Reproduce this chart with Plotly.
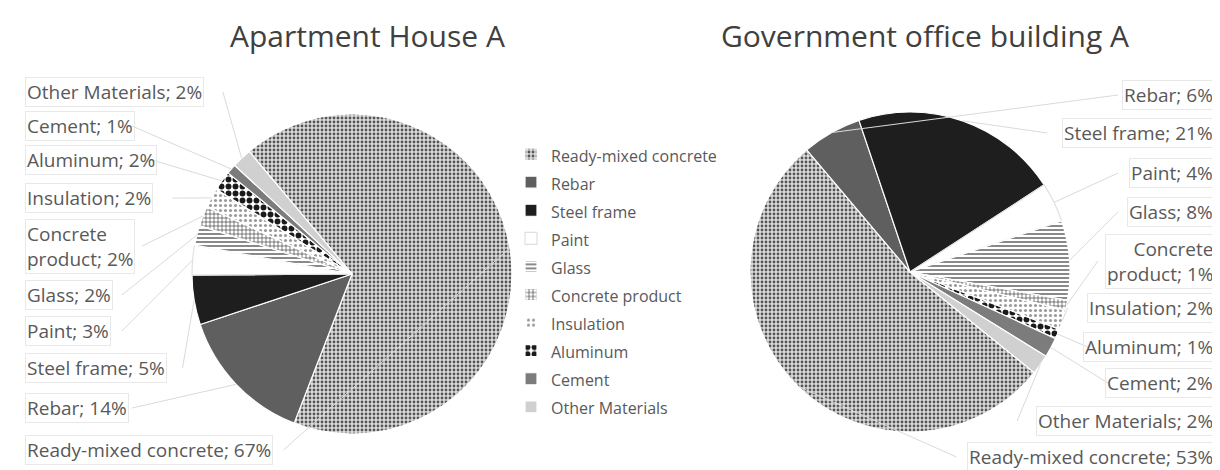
import math
import plotly.graph_objects as go

# page offset (body margin) and figure size
OX, OY = 8, 8
W, H = 1212, 462

materials = ["Ready-mixed concrete", "Rebar", "Steel frame", "Paint", "Glass",
             "Concrete product", "Insulation", "Aluminum", "Cement", "Other Materials"]
apartment_pct = [67, 14, 5, 3, 2, 2, 2, 2, 1, 2]
office_pct = [53, 6, 21, 4, 8, 1, 2, 1, 2, 2]

label_text = ["Ready-mixed concrete", "Rebar", "Steel frame", "Paint", "Glass",
              "Concrete<br>product", "Insulation", "Aluminum", "Cement", "Other Materials"]

titles = ["Apartment House A", "Government office building A"]


def fx(sx):
    return (sx - OX) / W


def fy(sy):
    return 1 - (sy - OY) / H


# styling
fill_colors = ["#dcdcdc", "#5f5f5f", "#1e1e1e", "#ffffff", "#ffffff",
               "#ffffff", "#ffffff", "#ffffff", "#7c7c7c", "#d0d0d0"]
pat_shapes = [".", "", "", "", "-", "+", ".", ".", "", ""]
pat_fg = ["#555555", "#5f5f5f", "#1e1e1e", "#ffffff", "#3a3a3a",
          "#3a3a3a", "#9a9a9a", "#1a1a1a", "#7c7c7c", "#d0d0d0"]
pat_size = [4, 8, 8, 8, 4, 4, 5, 7, 8, 8]
pat_sol = [0.4, 0.3, 0.3, 0.3, 0.3, 0.3, 0.3, 0.55, 0.3, 0.3]
border_cols = ["#ffffff", "#ffffff", "#ffffff", "#e0e0e0", "#ffffff",
               "#ffffff", "#ffffff", "#ffffff", "#ffffff", "#ffffff"]

# pie geometry (screen pixels)
pies = [
    dict(cx=352, cy=274, R=160, rot=-40, vals=apartment_pct, tx=367,
         lab_y=[450, 408, 368, 331, 295, 246, 198, 160, 126, 92], side="left"),
    dict(cx=910, cy=272, R=160, rot=129, vals=office_pct, tx=925,
         lab_y=[457, 95, 133, 173, 212, 261, 308, 347, 383, 421], side="right"),
]

fig = go.Figure()
shapes = []
annotations = []
font_fam = "'Open Sans', Lato, sans-serif"
txt_col = "#595959"
lab_size = 19
leg_size = 16

legend_labels = [f'<span style="font-size:{leg_size}px">{m}</span>' for m in materials]

for k, p in enumerate(pies):
    cx, cy, R = p["cx"], p["cy"], p["R"]
    fig.add_trace(go.Pie(
        labels=legend_labels, values=p["vals"], sort=False, direction="clockwise",
        rotation=p["rot"], textinfo="none", hoverinfo="percent",
        domain=dict(x=[fx(cx - R), fx(cx + R)], y=[fy(cy + R), fy(cy - R)]),
        marker=dict(colors=fill_colors, line=dict(color=border_cols, width=1.2),
                    pattern=dict(shape=pat_shapes, fgcolor=pat_fg, bgcolor=fill_colors,
                                 size=pat_size, solidity=pat_sol)),
        showlegend=(k == 0), name=titles[k],
    ))
    annotations.append(dict(x=fx(p["tx"]), y=fy(36),
                            xref="paper", yref="paper", text=titles[k],
                            showarrow=False, font=dict(size=30, color="#404040", family=font_fam),
                            xanchor="center", yanchor="middle"))
    total = sum(p["vals"])
    cum = 0
    for i, v in enumerate(p["vals"]):
        mid = math.radians(p["rot"] + (cum + v / 2) / total * 360)
        cum += v
        ex = cx + R * math.sin(mid)
        ey = cy - R * math.cos(mid)
        text = f"{label_text[i]}; {v}%"
        ly = p["lab_y"][i]
        nchar = max(len(s) for s in text.split("<br>"))
        wpx = nchar * 10.1
        if p["side"] == "left":
            lx0 = 25
            sx = lx0 + wpx + 6
            annotations.append(dict(x=fx(lx0), y=fy(ly), xref="paper", yref="paper",
                                    text=text, showarrow=False, align="left",
                                    xanchor="left", yanchor="middle",
                                    font=dict(size=lab_size, color=txt_col, family=font_fam),
                                    bordercolor="#e8e8e8", borderwidth=1, borderpad=1))
        else:
            lx1 = 1215
            sx = lx1 - wpx - 6
            annotations.append(dict(x=fx(lx1), y=fy(ly), xref="paper", yref="paper",
                                    text=text, showarrow=False, align="right",
                                    xanchor="right", yanchor="middle",
                                    font=dict(size=lab_size, color=txt_col, family=font_fam),
                                    bordercolor="#e8e8e8", borderwidth=1, borderpad=1))
        shapes.append(dict(type="line", xref="paper", yref="paper",
                           x0=fx(sx), y0=fy(ly), x1=fx(ex), y1=fy(ey),
                           line=dict(color="#dadada", width=1)))

fig.update_layout(
    width=W, height=H, margin=dict(l=0, r=0, t=0, b=0),
    paper_bgcolor="white", plot_bgcolor="white",
    font=dict(family=font_fam, color=txt_col),
    legend=dict(x=fx(511), y=fy(135), xanchor="left", yanchor="top",
                font=dict(size=19.3, color=txt_col, family=font_fam),
                bgcolor="rgba(0,0,0,0)", traceorder="normal"),
    shapes=shapes, annotations=annotations,
)

fig.write_html("out.html")
